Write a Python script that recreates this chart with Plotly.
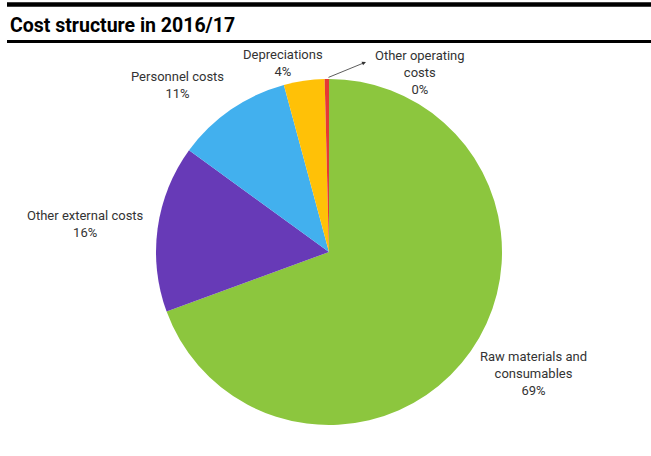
import plotly.graph_objects as go

# cost categories, clockwise from 12 o'clock
categories = ["Raw materials and consumables", "Other external costs",
              "Personnel costs", "Depreciations", "Other operating costs"]
shares = [69.4, 15.6, 10.8, 3.8, 0.4]
label_text = ["Raw materials and<br>consumables", "Other external costs",
              "Personnel costs", "Depreciations", "Other operating<br>costs"]
colors = ["#8CC63E", "#673AB7", "#42B0EE", "#FFC107", "#E53935"]

W, H = 651, 456

# label anchor points (pixels) for each slice
label_pos = [(533, 373), (85, 224), (177, 85), (283, 63), (420, 72)]

fig = go.Figure(go.Pie(
    labels=categories,
    values=shares,
    sort=False,
    direction="clockwise",
    rotation=0,
    marker=dict(colors=colors, line=dict(width=0)),
    textinfo="none",
    hoverinfo="label+percent",
    showlegend=False,
    domain=dict(x=[(329 - 173) / W, (329 + 173) / W],
                y=[1 - 425 / H, 1 - 79 / H]),
))

total = sum(shares)
annotations = []
for txt, val, (px_, py_) in zip(label_text, shares, label_pos):
    annotations.append(dict(
        x=px_ / W, y=1 - py_ / H, xref="paper", yref="paper",
        xanchor="center", yanchor="middle",
        text=f"{txt}<br>{round(val / total * 100)}%",
        showarrow=False, align="center",
        font=dict(size=13, color="#333333"),
    ))

# leader arrow for the tiny slice
annotations.append(dict(
    x=366 / W, y=1 - 62 / H, xref="paper", yref="paper",
    ax=-39, ay=16, showarrow=True, arrowhead=2, arrowsize=1,
    arrowwidth=0.8, arrowcolor="#333333", text="",
))

# title
annotations.append(dict(
    x=8 / W, y=1 - 25 / H, xref="paper", yref="paper",
    xanchor="left", yanchor="middle", showarrow=False,
    text="<b>Cost structure in 2016/17</b>",
    font=dict(size=19.5, color="#000000", family="Roboto"),
))

fig.update_layout(
    width=W, height=H,
    margin=dict(l=0, r=0, t=0, b=0),
    paper_bgcolor="white",
    font=dict(family="Roboto", color="#333333"),
    annotations=annotations,
    shapes=[
        dict(type="line", xref="paper", yref="paper",
             x0=7 / W, x1=1, y0=1 - 4.5 / H, y1=1 - 4.5 / H,
             line=dict(color="black", width=4.5)),
        dict(type="line", xref="paper", yref="paper",
             x0=7 / W, x1=1, y0=1 - 41.5 / H, y1=1 - 41.5 / H,
             line=dict(color="black", width=3)),
    ],
)

fig.write_html("out.html", config={"displayModeBar": False},
               post_script="document.body.style.margin='0px';")
